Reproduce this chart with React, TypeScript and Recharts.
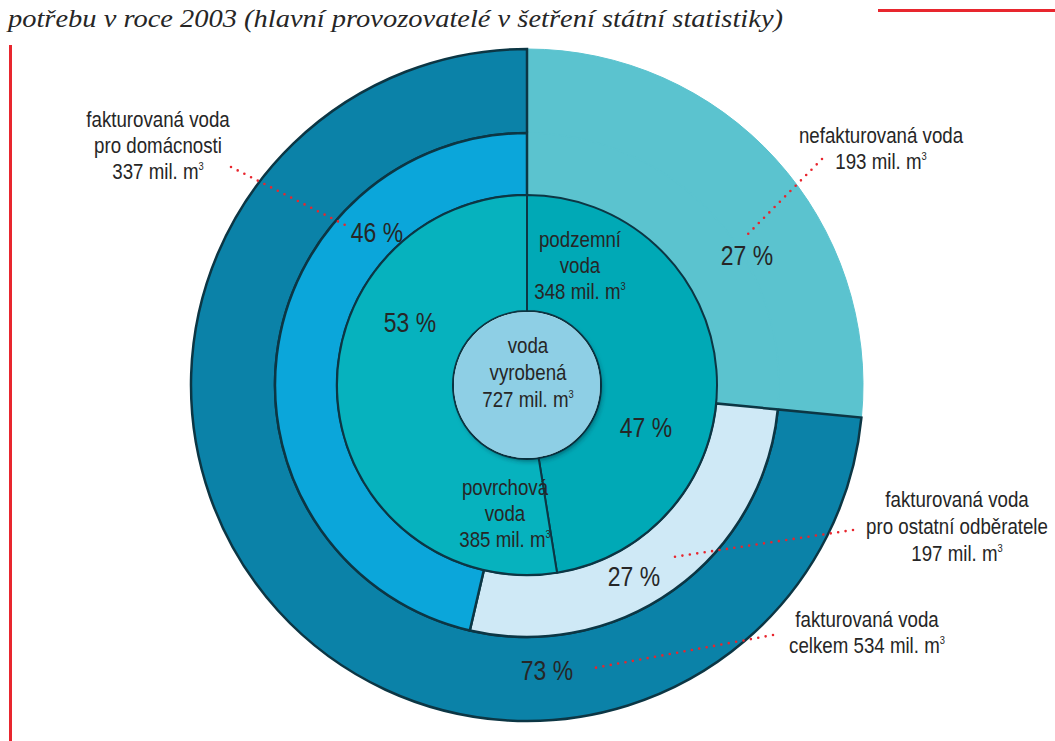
import React from 'react';
import { PieChart, Pie, Cell } from 'recharts';

const titleText = 'potřebu v roce 2003 (hlavní provozovatelé v šetření státní statistiky)';

const centerNames = ['voda vyrobená'];
const centerValues = [727];

const sourceNames = ['podzemní voda', 'povrchová voda'];
const sourceValues = [348, 385];
const sourcePercents = ['47 %', '53 %'];

const useNames = ['nefakturovaná voda', 'fakturovaná voda pro ostatní odběratele', 'fakturovaná voda pro domácnosti'];
const useValues = [193, 197, 337];
const usePercents = ['27 %', '27 %', '46 %'];

const billedNames = ['nefakturovaná voda', 'fakturovaná voda celkem'];
const billedValues = [193, 534];
const billedPercents = ['27 %', '73 %'];

const centerData = centerNames.map((name, i) => ({ name, value: centerValues[i] }));
const sourceData = sourceNames.map((name, i) => ({ name, value: sourceValues[i] }));
const useData = useNames.map((name, i) => ({ name, value: useValues[i] }));
const billedData = billedNames.map((name, i) => ({ name, value: billedValues[i] }));

const C_CENTER = '#8ecfe5';
const C_SOURCE = ['#00a9b6', '#06b2be'];
const C_USE = ['#5bc3cf', '#cfe9f6', '#0ba6da'];
const C_BILLED = ['#5bc3cf', '#0b82a8'];
const SEP = '#0c3644';

const FONT = "'Liberation Sans', Arial, sans-serif";
const TXT = '#262626';
const RED = '#e8262e';
const SX = 0.85;

const CX = 527;
const CY = 385;

function Lines({ x, y, lines, size = 22, step = 26 }: { x: number; y: number; lines: React.ReactNode[]; size?: number; step?: number }) {
  return (
    <g transform={`translate(${x} 0) scale(${SX} 1)`}>
      <text x={0} y={y} fontFamily={FONT} fontSize={size} fill={TXT} textAnchor="middle">
        {lines.map((l, i) => (
          <tspan key={i} x={0} dy={i === 0 ? 0 : step}>{l}</tspan>
        ))}
      </text>
    </g>
  );
}

const M3 = (pre: string) => (
  <>
    {pre}
    <tspan fontSize={11} dy={-9}>3</tspan>
    <tspan dy={9}>{''}</tspan>
  </>
);

function Leader({ x1, y1, x2, y2 }: { x1: number; y1: number; x2: number; y2: number }) {
  return (
    <line x1={x1} y1={y1} x2={x2} y2={y2} stroke={RED} strokeWidth={2.6} strokeDasharray="0 7.5" strokeLinecap="round" />
  );
}

export default function App() {
  return (
    <div style={{ position: 'absolute', left: 0, top: 0, width: 1055, height: 741, background: '#ffffff', overflow: 'hidden' }}>
      <svg width={0} height={0} style={{ position: 'absolute' }}>
        <defs>
          <filter id="softShadow" x="-20%" y="-20%" width="140%" height="140%">
            <feDropShadow dx={2} dy={3} stdDeviation={2.5} floodColor="#062a36" floodOpacity={0.55} />
          </filter>
        </defs>
      </svg>
      <PieChart width={1055} height={741} margin={{ top: 0, right: 0, bottom: 0, left: 0 }}>
        <Pie
          data={billedData}
          dataKey="value"
          cx={CX}
          cy={CY}
          innerRadius={252}
          outerRadius={336}
          startAngle={90}
          endAngle={-270}
          isAnimationActive={false}
        >
          {billedData.map((d, i) => (
            <Cell key={d.name} fill={C_BILLED[i]} stroke={i === 0 ? C_BILLED[0] : SEP} strokeWidth={i === 0 ? 1 : 2.5} />
          ))}
        </Pie>
        <Pie
          data={useData}
          dataKey="value"
          cx={CX}
          cy={CY}
          innerRadius={190}
          outerRadius={252}
          startAngle={90}
          endAngle={-270}
          isAnimationActive={false}
        >
          {useData.map((d, i) => (
            <Cell key={d.name} fill={C_USE[i]} stroke={i === 0 ? C_USE[0] : SEP} strokeWidth={i === 0 ? 1.5 : 2.5} />
          ))}
        </Pie>
        <Pie
          data={sourceData}
          dataKey="value"
          cx={CX}
          cy={CY}
          innerRadius={74}
          outerRadius={190}
          startAngle={90}
          endAngle={-270}
          isAnimationActive={false}
        >
          {sourceData.map((d, i) => (
            <Cell key={d.name} fill={C_SOURCE[i]} stroke={SEP} strokeWidth={2} />
          ))}
        </Pie>
        <Pie
          data={centerData}
          dataKey="value"
          cx={CX}
          cy={CY}
          innerRadius={0}
          outerRadius={73}
          startAngle={90}
          endAngle={-270}
          isAnimationActive={false}
        >
          {centerData.map((d) => (
            <Cell key={d.name} fill={C_CENTER} stroke="none" filter="url(#softShadow)" />
          ))}
        </Pie>
      </PieChart>
      <svg width={1055} height={741} style={{ position: 'absolute', left: 0, top: 0, pointerEvents: 'none' }}>
        <text x={8} y={27} fontFamily="'Liberation Serif', 'DejaVu Serif', serif" fontStyle="italic" fontSize={26} fill={TXT} textLength={775} lengthAdjust="spacingAndGlyphs">
          {titleText}
        </text>
        <rect x={878} y={9} width={177} height={3} fill={RED} />
        <rect x={9} y={45} width={3} height={696} fill={RED} />

        <Leader x1={231} y1={167} x2={347} y2={226} />
        <Leader x1={822} y1={159} x2={748} y2={234} />
        <Leader x1={853} y1={530} x2={673} y2={557} />
        <Leader x1={773} y1={635} x2={594} y2={668} />

        <Lines x={158} y={127} lines={['fakturovaná voda', 'pro domácnosti', M3('337 mil. m')]} />
        <Lines x={881} y={143} lines={['nefakturovaná voda', M3('193 mil. m')]} />
        <Lines x={957} y={507} lines={['fakturovaná voda', 'pro ostatní odběratele', M3('197 mil. m')]} step={27} />
        <Lines x={867} y={627} lines={['fakturovaná voda', M3('celkem 534 mil. m')]} />

        <Lines x={580} y={247} lines={['podzemní', 'voda', M3('348 mil. m')]} />
        <Lines x={528} y={353} lines={['voda', 'vyrobená', M3('727 mil. m')]} step={27} />
        <Lines x={505} y={495} lines={['povrchová', 'voda', M3('385 mil. m')]} />

        <Lines x={377} y={242} lines={[usePercents[2]]} size={27} />
        <Lines x={410} y={332} lines={[sourcePercents[1]]} size={27} />
        <Lines x={646} y={437} lines={[sourcePercents[0]]} size={27} />
        <Lines x={747} y={265} lines={[billedPercents[0]]} size={27} />
        <Lines x={634} y={586} lines={[usePercents[1]]} size={27} />
        <Lines x={547} y={680} lines={[billedPercents[1]]} size={27} />
      </svg>
    </div>
  );
}
